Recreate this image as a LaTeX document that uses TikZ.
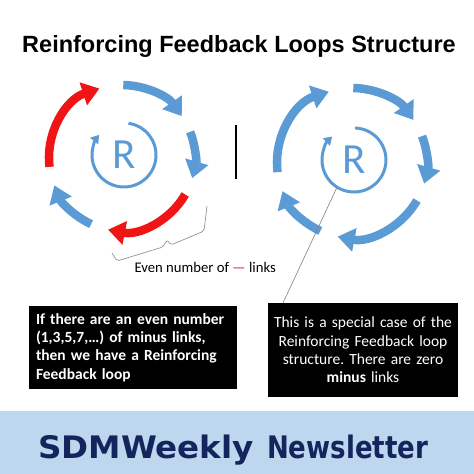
\documentclass[tikz,border=0pt]{standalone}
\usepackage{graphicx}
\usepackage{fontspec}
\setmainfont{Carlito}
\newfontfamily\titlefont{Liberation Sans}
\newfontfamily\bannerfont{DejaVu Sans}
\usetikzlibrary{arrows.meta}
\frenchspacing

\definecolor{loopblue}{HTML}{5B9BD5}
\definecolor{loopred}{HTML}{F01414}
\definecolor{bannerbg}{HTML}{BDD7EE}
\definecolor{bannerink}{HTML}{14245C}
\definecolor{bracegray}{HTML}{8A96A3}

\tikzset{
  bluearc/.style={draw=loopblue, line width=8.5pt, -{Triangle[width=23pt,length=17pt]}},
  redarc/.style={bluearc, draw=loopred},
  rarc/.style={draw=loopblue, line width=3pt, -{Triangle[width=10pt,length=8pt]}},
  rsign/.style={circle, minimum size=64pt, inner sep=0pt, outer sep=0pt, text=loopblue,
    font=\fontsize{43}{43}\selectfont},
  notebox/.style={fill=black, text=white, inner sep=0pt, font=\fontsize{15.5}{18.3}\selectfont},
  titletext/.style={anchor=base, font=\titlefont\bfseries\fontsize{23.5}{24}\selectfont},
  bannertext/.style={anchor=base west, inner sep=0pt, text=bannerink, font=\bannerfont\bfseries\fontsize{31}{32}\selectfont}
}

\begin{document}
\begin{tikzpicture}[x=1pt, y=1pt]
  \useasboundingbox (0,0) rectangle (474,474);

  % Title.
  \node[titletext] (title) at (239,421) {Reinforcing Feedback Loops Structure};

  % Centres of the two loops.
  \coordinate (cL) at (122,316);
  \coordinate (cR) at (352,311);

  % Left loop, with two minus links.
  \draw[redarc] ([shift={(187:73)}]cL) arc[start angle=187, end angle=108, radius=73];
  \draw[bluearc] ([shift={(89:73)}]cL) arc[start angle=89, end angle=35, radius=73];
  \draw[bluearc] ([shift={(21:73)}]cL) arc[start angle=21, end angle=-16, radius=73];
  \draw[redarc] ([shift={(-30:73)}]cL) arc[start angle=-30, end angle=-101, radius=73];
  \draw[bluearc] ([shift={(-115:73)}]cL) arc[start angle=-115, end angle=-158, radius=73];

  % Right loop, no minus links.
  \draw[bluearc] ([shift={(187:75)}]cR) arc[start angle=187, end angle=108, radius=75];
  \draw[bluearc] ([shift={(89:75)}]cR) arc[start angle=89, end angle=35, radius=75];
  \draw[bluearc] ([shift={(21:75)}]cR) arc[start angle=21, end angle=-16, radius=75];
  \draw[bluearc] ([shift={(-30:75)}]cR) arc[start angle=-30, end angle=-101, radius=75];
  \draw[bluearc] ([shift={(-115:75)}]cR) arc[start angle=-115, end angle=-158, radius=75];

  % The R signs.
  \node[rsign] (rL) at (124,319) {R};
  \node[rsign] (rR) at (354,314) {R};
  \draw[rarc] (rL.82) arc[start angle=82, end angle=-219, radius=32];
  \draw[rarc] (rR.88) arc[start angle=88, end angle=-227, radius=32];

  % Divider.
  \draw[line width=1.8pt] (236,349) -- (236,295);

  % Brace under the red link.
  \draw[bracegray, line width=0.7pt, rounded corners=2pt]
    (112,221) -- (117,213) -- (163,227) -- (167,234) -- (171,229) -- (204,243) -- (207,268);
  \node[anchor=base west, font=\fontsize{14.7}{16}\selectfont] (even) at (131,201)
    {Even number of {\color{loopred}---} links};

  % Note boxes.
  \node[notebox, minimum width=208pt, minimum height=83pt, text width=194pt, align=left] (boxL) at (133,126.5)
    {\bfseries If there are an even number\\(1,3,5,7,\dots) of minus links,\\then we have a Reinforcing\\Feedback loop};
  \node[notebox, minimum width=190pt, minimum height=94pt, text width=186pt, align=center] (boxR) at (363,124)
    {This is a special case of the\\Reinforcing Feedback loop\\structure. There are zero\\\textbf{minus} links};

  % Pointer from the right R to its note.
  \coordinate (tipR) at (283,171);
  \draw[gray, line width=0.6pt] (rR.238) -- (tipR);

  % Banner.
  \fill[bannerbg] (0,0) rectangle (474,63);
  \node[bannertext] (sdm) at (38,16) {\scalebox{1.05}[1]{SDMWeekly}};
  \node[bannertext] (news) at (267,16) {\scalebox{0.84}[1]{Newsletter}};
\end{tikzpicture}
\end{document}
